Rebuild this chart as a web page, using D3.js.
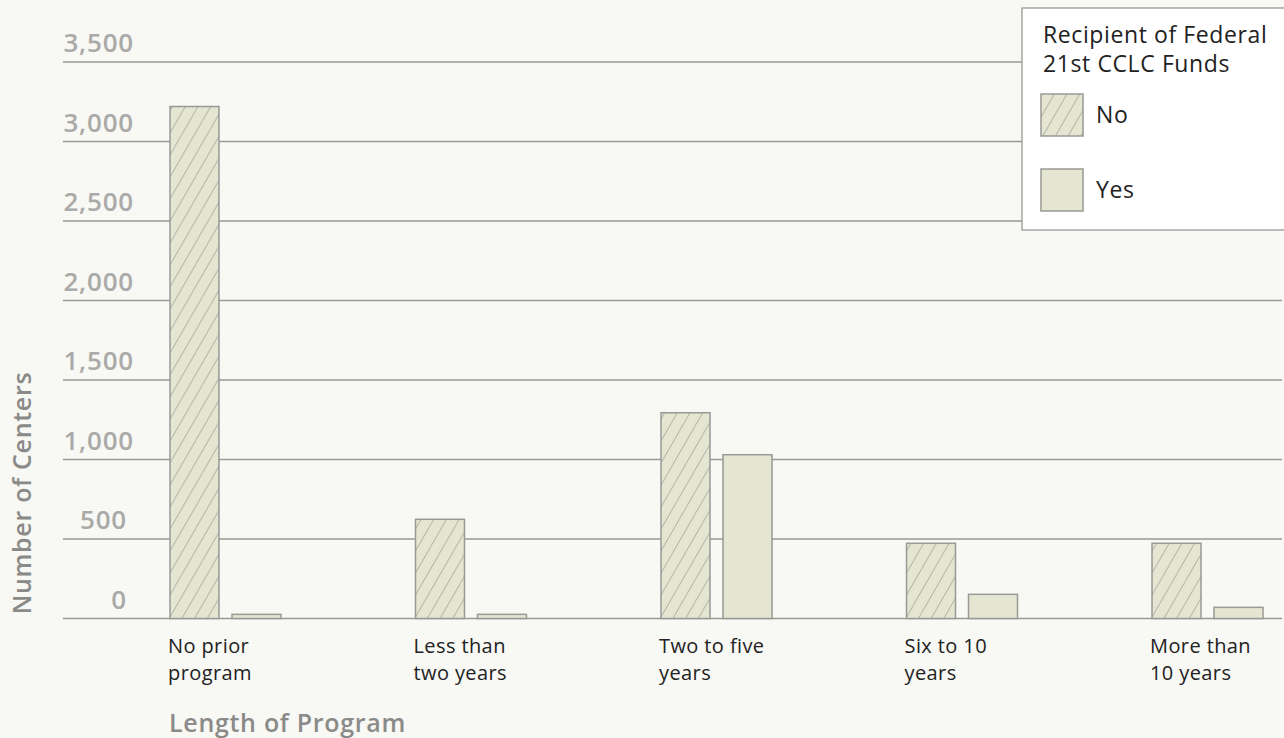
<!DOCTYPE html>
<html>
<head>
<meta charset="utf-8">
<script src="https://cdn.jsdelivr.net/npm/d3@7"></script>
<style>
  html, body { margin: 0; padding: 0; background: #f8f8f4; }
  svg { display: block; }
  text { font-family: "Open Sans", "Noto Sans", sans-serif; }
</style>
</head>
<body>
<svg id="chart" width="1284" height="738"></svg>
<script>
const categories = [["No prior", "program"], ["Less than", "two years"], ["Two to five", "years"], ["Six to 10", "years"], ["More than", "10 years"]];
const seriesNames = ["No", "Yes"];
const noValues = [3220, 624, 1294, 473, 473];
const yesValues = [26, 26, 1030, 152, 70];
const yTicks = [0, 500, 1000, 1500, 2000, 2500, 3000, 3500];
const legendTitle = ["Recipient of Federal", "21st CCLC Funds"];
const xTitle = "Length of Program";
const yTitle = "Number of Centers";

const svg = d3.select("#chart");
const W = 1284, H = 738;

svg.append("rect").attr("width", W).attr("height", H).attr("fill", "#f8f8f4");

const defs = svg.append("defs");
const pat = defs.append("pattern")
  .attr("id", "hatch")
  .attr("patternUnits", "userSpaceOnUse")
  .attr("width", 11).attr("height", 11)
  .attr("patternTransform", "rotate(30)");
pat.append("rect").attr("width", 11).attr("height", 11).attr("fill", "#e5e6d2");
pat.append("line").attr("x1", 0).attr("y1", 0).attr("x2", 0).attr("y2", 11)
  .attr("stroke", "#9a9a94").attr("stroke-width", 1.3);

const y = d3.scaleLinear().domain([0, 3500]).range([618.5, 62]);
const x0 = d3.scaleBand().domain(d3.range(categories.length)).range([170, 1263]).paddingInner(0.548).paddingOuter(0);
const x1 = d3.scaleBand().domain(seriesNames).range([0, x0.bandwidth()]).paddingInner(0.21);

const gridL = 63, gridR = 1282;

// gridlines
svg.append("g").selectAll("line").data(yTicks).join("line")
  .attr("x1", gridL).attr("x2", gridR)
  .attr("y1", d => y(d)).attr("y2", d => y(d))
  .attr("stroke", "#999995").attr("stroke-width", 1.5);

// tick labels
const fmt = d3.format(",");
svg.append("g").selectAll("text").data(yTicks).join("text")
  .attr("x", d => d >= 1000 ? 134 : 127)
  .attr("y", d => y(d) - 10)
  .attr("text-anchor", "end")
  .attr("font-size", 26).attr("font-weight", 600)
  .attr("letter-spacing", 0.8)
  .attr("fill", "#aaaaa8")
  .text(d => fmt(d));

// bars
const data = categories.map((c, i) => ({ i, vals: [{ k: "No", v: noValues[i] }, { k: "Yes", v: yesValues[i] }] }));
const groups = svg.append("g").selectAll("g").data(data).join("g")
  .attr("transform", d => `translate(${x0(d.i)},0)`);
groups.selectAll("rect").data(d => d.vals).join("rect")
  .attr("x", d => x1(d.k))
  .attr("width", x1.bandwidth())
  .attr("y", d => y(d.v))
  .attr("height", d => y(0) - y(d.v))
  .attr("fill", d => d.k === "No" ? "url(#hatch)" : "#e5e6d2")
  .attr("stroke", "#999995").attr("stroke-width", 1.5);

// category labels
const catG = svg.append("g").selectAll("text").data(categories).join("text")
  .attr("x", (d, i) => x0(i) - 2)
  .attr("y", 653)
  .attr("font-size", 20).attr("letter-spacing", 0.4).attr("fill", "#222");
catG.selectAll("tspan").data(d => d).join("tspan")
  .attr("x", function () { return d3.select(this.parentNode).attr("x"); })
  .attr("dy", (d, j) => j === 0 ? 0 : 27)
  .text(d => d);

// axis titles
svg.append("text").attr("x", 169).attr("y", 732)
  .attr("font-size", 25).attr("font-weight", 600).attr("letter-spacing", 0.7).attr("fill", "#8a8a88")
  .text(xTitle);
svg.append("text").attr("transform", "translate(31,493) rotate(-90)")
  .attr("text-anchor", "middle")
  .attr("font-size", 25).attr("font-weight", 600).attr("letter-spacing", 0.7).attr("fill", "#8a8a88")
  .text(yTitle);

// legend
const lg = svg.append("g");
lg.append("rect").attr("x", 1022).attr("y", 8).attr("width", 280).attr("height", 222)
  .attr("fill", "#ffffff").attr("stroke", "#999995").attr("stroke-width", 1.3);
lg.append("text").attr("x", 1043).attr("y", 43).attr("font-size", 23).attr("letter-spacing", 0.6).attr("fill", "#222")
  .selectAll("tspan").data(legendTitle).join("tspan")
  .attr("x", 1043).attr("dy", (d, j) => j === 0 ? 0 : 29).text(d => d);
const items = lg.selectAll("g.item").data(seriesNames).join("g").attr("class", "item")
  .attr("transform", (d, i) => `translate(1041,${94 + i * 75})`);
items.append("rect").attr("width", 42).attr("height", 42)
  .attr("fill", d => d === "No" ? "url(#hatch)" : "#e5e6d2")
  .attr("stroke", "#999995").attr("stroke-width", 1.5);
items.append("text").attr("x", 55).attr("y", 29).attr("font-size", 23).attr("letter-spacing", 0.6).attr("fill", "#222")
  .text(d => d);
</script>
</body>
</html>
